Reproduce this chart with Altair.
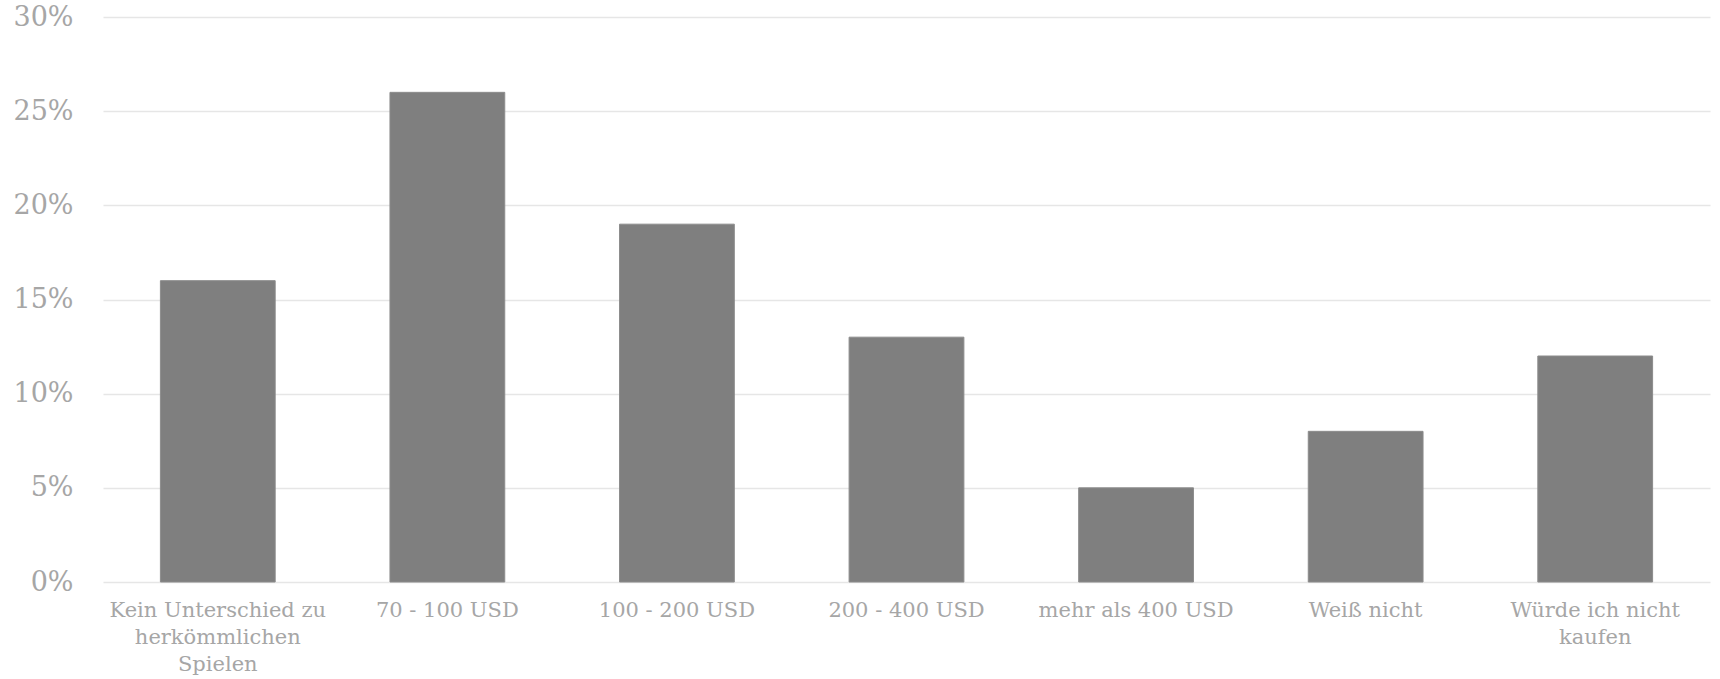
import json
import altair as alt
import pandas as pd

categories = [
    "Kein Unterschied zu herkömmlichen Spielen",
    "70 - 100 USD",
    "100 - 200 USD",
    "200 - 400 USD",
    "mehr als 400 USD",
    "Weiß nicht",
    "Würde ich nicht kaufen",
]
label_lines = [
    ["Kein Unterschied zu", "herkömmlichen", "Spielen"],
    ["70 - 100 USD"],
    ["100 - 200 USD"],
    ["200 - 400 USD"],
    ["mehr als 400 USD"],
    ["Weiß nicht"],
    ["Würde ich nicht", "kaufen"],
]
values = [0.16, 0.26, 0.19, 0.13, 0.05, 0.08, 0.12]
y_ticks = [0, 0.05, 0.10, 0.15, 0.20, 0.25, 0.30]

df = pd.DataFrame({"Kategorie": categories, "Anteil": values})
label_map = json.dumps(dict(zip(categories, label_lines)), ensure_ascii=False)

FONT = "DejaVu Serif"
LABEL = "#a6a6a6"

chart = (
    alt.Chart(df)
    .mark_bar(color="#7f7f7f", stroke="#8c8c8c", strokeWidth=1)
    .encode(
        x=alt.X(
            "Kategorie:N",
            sort=categories,
            title=None,
            scale=alt.Scale(paddingInner=0.5, paddingOuter=0.25),
            axis=alt.Axis(
                labelAngle=0,
                labelExpr=f"{label_map}[datum.label]",
                labelFont=FONT,
                labelFontSize=21,
                labelColor=LABEL,
                labelLineHeight=27,
                labelPadding=17,
                labelBaseline="top",
                domain=False,
                ticks=False,
                grid=False,
                labelLimit=400,
            ),
        ),
        y=alt.Y(
            "Anteil:Q",
            title=None,
            scale=alt.Scale(domain=[0, 0.30], nice=False, zero=True),
            axis=alt.Axis(
                values=y_ticks,
                format=".0%",
                labelFont=FONT,
                labelFontSize=27,
                labelColor=LABEL,
                labelPadding=30,
                domain=False,
                ticks=False,
                grid=True,
                gridColor="#e6e6e6",
                gridWidth=1.5,
            ),
        ),
    )
    .properties(
        width=1607,
        height=565,
        padding={"left": 103, "top": 17, "right": 10, "bottom": 97},
        autosize=alt.AutoSizeParams(type="none"),
        background="white",
    )
    .configure_view(stroke=None)
)

chart.save("out.html", embed_options={"renderer": "svg", "actions": False})
